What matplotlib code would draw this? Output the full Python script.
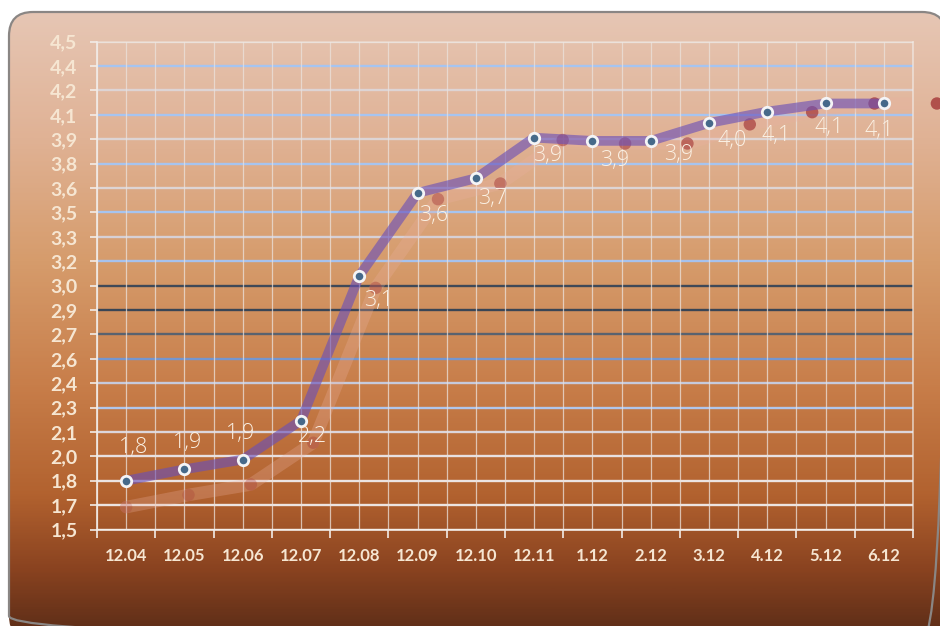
import numpy as np
import matplotlib
matplotlib.use("Agg")
import matplotlib.pyplot as plt
from matplotlib.colors import LinearSegmentedColormap, to_rgba
from matplotlib.patches import FancyBboxPatch

# --- data ---
MONTHS = ["12.04", "12.05", "12.06", "12.07", "12.08", "12.09", "12.10",
          "12.11", "1.12", "2.12", "3.12", "4.12", "5.12", "6.12"]
VALUES = [1.80, 1.87, 1.93, 2.17, 3.06, 3.57, 3.66,
          3.91, 3.89, 3.89, 4.00, 4.07, 4.12, 4.12]
Y_TICKS = np.linspace(1.5, 4.5, 21)
Y_TICK_LABELS = ["1,5", "1,7", "1,8", "2,0", "2,1", "2,3", "2,4", "2,6", "2,7",
                 "2,9", "3,0", "3,2", "3,3", "3,5", "3,6", "3,8", "3,9", "4,1",
                 "4,2", "4,4", "4,5"]

# --- styling ---
# label offsets (pixels) relative to each point, as placed in the original
LABEL_OFFSETS = [(7, 33), (3, 27), (-2, 26), (11, -16), (19, -25), (16, -23),
                 (17, -20), (13, -18), (22, -20), (28, -14), (23, -18),
                 (9, -24), (4, -24), (-5, -27)]
# horizontal gridline colours, bottom -> top (the source image has them mixed)
GRID_COLORS = ["#ffffff", "#ece4e2", "#ece4e2", "#e8e0e0", "#dcd6dc", "#b0c6ec",
               "#c6cadc", "#7496d0", "#59626f", "#394555", "#3f4958", "#a6c2ee",
               "#d6d0d6", "#a6c4f0", "#ddd4d4", "#a6c4f0", "#ddd4d4", "#a6c4f0",
               "#ddd4d4", "#a6c4f0", "#e6dad2"]
SHADOW_SCALE = 1.07
TXT = "#f6e6d2"
plt.rcParams["font.family"] = ["Lato", "DejaVu Sans"]

W, H = 940, 626
fig = plt.figure(figsize=(W / 100, H / 100), dpi=100)
fig.patch.set_facecolor("white")

# background: rounded frame filled with vertical gradient
bg = fig.add_axes([0, 0, 1, 1])
bg.set_xlim(0, W); bg.set_ylim(H, 0); bg.axis("off")
cmap = LinearSegmentedColormap.from_list("warm", [
    (0.00, "#e6c6b4"), (0.20, "#e0b295"), (0.40, "#d69c6c"),
    (0.60, "#c87e4a"), (0.78, "#b2622f"), (0.90, "#8a4320"), (1.00, "#5e2e18")])
grad = np.linspace(0, 1, 400).reshape(-1, 1)
frame = FancyBboxPatch((9, 12), 937, 628, boxstyle="round,pad=0,rounding_size=24",
                       facecolor="none", edgecolor="#8a8684", lw=1.6, zorder=3)
bg.add_patch(frame)
im = bg.imshow(grad, cmap=cmap, extent=(9, 946, 632, 12), aspect="auto", zorder=1)
im.set_clip_path(frame)

ax = fig.add_axes([97 / W, 1 - 529.5 / H, (913 - 97) / W, (529.5 - 41.7) / H])
ax.set_facecolor("none")
x = np.arange(len(MONTHS))
ax.set_xlim(-0.5, len(MONTHS) - 0.5)
ax.set_ylim(1.5, 4.5)

# grid
for yv, c in zip(Y_TICKS, GRID_COLORS):
    ax.axhline(yv, color=c, lw=1.7, zorder=1)
for xv in np.arange(-0.5, len(MONTHS), 0.5):
    ax.axvline(xv, color="#ece2dc", lw=0.9, alpha=0.75, zorder=1)

for s in ax.spines.values():
    s.set_color("#f2ece8"); s.set_linewidth(1.2)
ax.spines["top"].set_alpha(0.5); ax.spines["right"].set_alpha(0.7)

ax.set_yticks(Y_TICKS)
ax.set_yticklabels(Y_TICK_LABELS)
ax.set_xticks(x)
ax.set_xticklabels(MONTHS)
ax.set_xticks(np.arange(-0.5, len(MONTHS), 1.0), minor=True)
ax.tick_params(axis="y", colors="#f2ece8", length=5, width=1.2, pad=9,
               labelsize=14, labelcolor=TXT)
ax.tick_params(axis="x", which="major", length=0, pad=13, labelsize=12,
               labelcolor=TXT)
ax.tick_params(axis="x", which="minor", colors="#f2ece8", length=6, width=1.2)
for t in ax.get_xticklabels() + ax.get_yticklabels():
    t.set_fontweight("bold")

# perspective shadow of the series (fades out towards the start)
top = max(VALUES)
xs = x * SHADOW_SCALE
ys = top + (np.array(VALUES) - top) * SHADOW_SCALE
ax.plot(xs, ys, color="#eab0a0", lw=9, alpha=0.28, solid_capstyle="round", zorder=2)
fade = np.linspace(0.2, 0.75, len(MONTHS))
dot_colors = [to_rgba("#a02e30", a) for a in fade]
ax.scatter(xs, ys, s=80, c=dot_colors, linewidths=0, clip_on=False, zorder=3)

# main series
ax.plot(x, VALUES, color="#6a4fb8", lw=7, alpha=0.62, solid_joinstyle="round",
        zorder=4)
ax.plot(x, VALUES, ls="none", marker="o", ms=7.5, mfc="#46698a", mec="#f4f4f6",
        mew=2.0, zorder=5)

for xi, v, (dx, dy) in zip(x, VALUES, LABEL_OFFSETS):
    ax.annotate(f"{v:.1f}".replace(".", ","), (xi, v), xytext=(dx, dy),
                textcoords="offset pixels", ha="center", va="center",
                fontsize=15.5, color="#fbf1e4", fontweight="light",
                family=["Open Sans", "DejaVu Sans"], zorder=6)

fig.savefig("out.png", dpi=100)
